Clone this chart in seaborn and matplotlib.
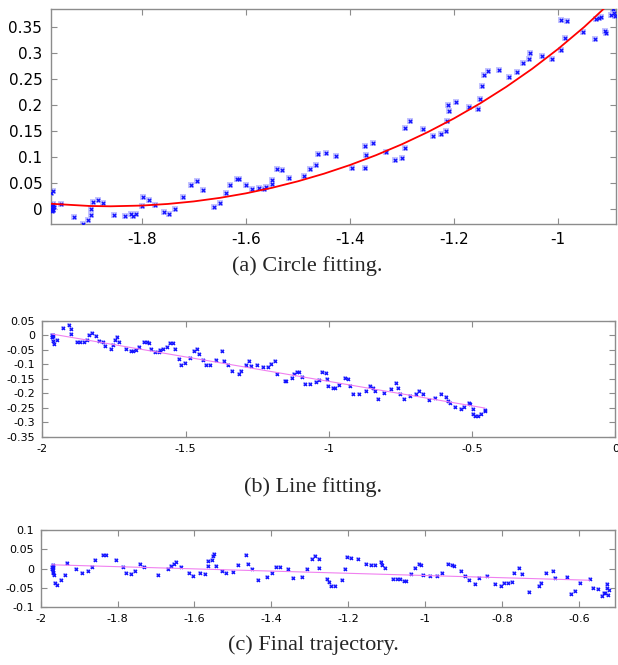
import matplotlib
matplotlib.use("Agg")
import matplotlib.pyplot as plt
import matplotlib.ticker as mticker
import pandas as pd
import seaborn as sns

# (a) circle fitting: measured points and fitted arc
circle_x = [-1.975, -1.970, -1.974, -1.973, -1.972, -1.971, -1.970, -1.973, -1.969, -1.970,
            -1.955, -1.931, -1.912, -1.904, -1.897, -1.897, -1.893, -1.885, -1.875, -1.854,
            -1.833, -1.821, -1.817, -1.811, -1.800, -1.798, -1.787, -1.774, -1.757, -1.747,
            -1.736, -1.720, -1.706, -1.693, -1.682, -1.662, -1.649, -1.639, -1.631, -1.617,
            -1.613, -1.600, -1.588, -1.574, -1.565, -1.561, -1.550, -1.550, -1.540, -1.531,
            -1.517, -1.489, -1.477, -1.465, -1.462, -1.446, -1.426, -1.396, -1.371, -1.369,
            -1.371, -1.356, -1.331, -1.314, -1.301, -1.294, -1.294, -1.285, -1.260, -1.240,
            -1.225, -1.216, -1.213, -1.210, -1.211, -1.197, -1.172, -1.154, -1.150, -1.147,
            -1.143, -1.134, -1.113, -1.095, -1.079, -1.067, -1.057, -1.054, -1.032, -1.012,
            -0.995, -0.987, -0.994, -0.984, -0.952, -0.930, -0.928, -0.921, -0.917, -0.910,
            -0.908, -0.899, -0.894, -0.892, -0.890]
circle_y = [0.030, 0.035, 0.000, 0.004, 0.008, -0.002, 0.010, -0.004, 0.003, -0.002,
            0.010, -0.016, -0.029, -0.022, -0.011, -0.001, 0.014, 0.017, 0.012, -0.011,
            -0.014, -0.010, -0.013, -0.010, 0.006, 0.022, 0.017, 0.008, -0.006, -0.009,
            0.000, 0.023, 0.045, 0.053, 0.036, 0.004, 0.012, 0.030, 0.046, 0.058,
            0.058, 0.045, 0.038, 0.040, 0.038, 0.043, 0.047, 0.055, 0.076, 0.074,
            0.059, 0.064, 0.077, 0.085, 0.105, 0.108, 0.101, 0.078, 0.121, 0.103,
            0.079, 0.126, 0.110, 0.095, 0.097, 0.117, 0.156, 0.170, 0.154, 0.140,
            0.144, 0.150, 0.170, 0.188, 0.199, 0.205, 0.196, 0.193, 0.212, 0.237,
            0.257, 0.265, 0.267, 0.254, 0.264, 0.280, 0.289, 0.299, 0.294, 0.289,
            0.306, 0.328, 0.363, 0.362, 0.340, 0.326, 0.365, 0.367, 0.369, 0.343,
            0.338, 0.372, 0.384, 0.376, 0.371]
circle_fit_x = [-1.975, -1.9, -1.86, -1.8, -1.75, -1.7, -1.65, -1.6, -1.55, -1.5, -1.45, -1.4,
                -1.35, -1.3, -1.25, -1.2, -1.15, -1.1, -1.05, -1.0, -0.95, -0.9]
circle_fit_y = [0.0099, 0.0056, 0.0050, 0.0064, 0.0095, 0.0144, 0.0212, 0.0299, 0.0405, 0.0531,
                0.0677, 0.0844, 0.1033, 0.1244, 0.1480, 0.1741, 0.2029, 0.2346, 0.2694, 0.3078,
                0.3499, 0.3965]

# (b) line fitting
line_x = [-1.967, -1.965, -1.963, -1.966, -1.962, -1.959, -1.962, -1.948, -1.927, -1.908,
          -1.901, -1.899, -1.880, -1.869, -1.855, -1.845, -1.838, -1.825, -1.812, -1.801,
          -1.789, -1.781, -1.761, -1.752, -1.746, -1.739, -1.731, -1.707, -1.692, -1.685,
          -1.672, -1.661, -1.645, -1.636, -1.629, -1.621, -1.606, -1.594, -1.588, -1.578,
          -1.566, -1.554, -1.545, -1.538, -1.524, -1.516, -1.502, -1.485, -1.469, -1.461,
          -1.453, -1.439, -1.428, -1.415, -1.395, -1.374, -1.364, -1.351, -1.338, -1.315,
          -1.305, -1.290, -1.277, -1.270, -1.250, -1.231, -1.213, -1.201, -1.189, -1.182,
          -1.153, -1.150, -1.127, -1.121, -1.112, -1.104, -1.095, -1.084, -1.065, -1.045,
          -1.033, -1.023, -1.009, -1.007, -1.003, -0.986, -0.977, -0.966, -0.945, -0.934,
          -0.926, -0.916, -0.896, -0.870, -0.855, -0.846, -0.837, -0.828, -0.806, -0.784,
          -0.767, -0.758, -0.753, -0.737, -0.718, -0.697, -0.686, -0.672, -0.649, -0.630,
          -0.608, -0.590, -0.585, -0.576, -0.558, -0.539, -0.528, -0.511, -0.506, -0.497,
          -0.497, -0.488, -0.478, -0.467, -0.455, -0.454]
line_y = [0.000, -0.004, 0.002, -0.007, -0.002, -0.031, -0.019, -0.017, 0.026, 0.035,
          0.021, 0.004, -0.024, -0.023, -0.023, -0.015, 0.000, 0.007, -0.002, -0.018,
          -0.024, -0.035, -0.048, -0.033, -0.015, -0.005, -0.024, -0.048, -0.053, -0.053,
          -0.050, -0.041, -0.022, -0.024, -0.027, -0.047, -0.058, -0.056, -0.050, -0.046,
          -0.040, -0.027, -0.027, -0.046, -0.083, -0.102, -0.094, -0.077, -0.053, -0.047,
          -0.064, -0.086, -0.103, -0.103, -0.086, -0.055, -0.087, -0.103, -0.122, -0.132,
          -0.122, -0.102, -0.090, -0.105, -0.103, -0.110, -0.108, -0.099, -0.090, -0.133,
          -0.158, -0.156, -0.148, -0.133, -0.125, -0.125, -0.144, -0.168, -0.167, -0.161,
          -0.154, -0.125, -0.131, -0.151, -0.174, -0.180, -0.180, -0.171, -0.147, -0.151,
          -0.174, -0.203, -0.204, -0.192, -0.175, -0.182, -0.193, -0.218, -0.198, -0.186,
          -0.163, -0.183, -0.204, -0.218, -0.209, -0.204, -0.192, -0.204, -0.223, -0.215,
          -0.204, -0.212, -0.226, -0.233, -0.248, -0.255, -0.246, -0.235, -0.238, -0.255,
          -0.272, -0.279, -0.279, -0.271, -0.261, -0.256]
line_fit_x = [-1.967, -0.455]
line_fit_y = [0.005, -0.251]

# (c) final trajectory
traj_x = [-1.969, -1.968, -1.970, -1.967, -1.969, -1.968, -1.966, -1.970, -1.967, -1.962,
          -1.957, -1.946, -1.938, -1.931, -1.907, -1.893, -1.878, -1.866, -1.858, -1.839,
          -1.829, -1.803, -1.787, -1.777, -1.766, -1.755, -1.742, -1.731, -1.695, -1.669,
          -1.661, -1.653, -1.647, -1.635, -1.614, -1.603, -1.585, -1.573, -1.565, -1.564,
          -1.555, -1.553, -1.550, -1.543, -1.528, -1.519, -1.499, -1.486, -1.466, -1.461,
          -1.450, -1.436, -1.411, -1.398, -1.388, -1.377, -1.356, -1.343, -1.319, -1.306,
          -1.294, -1.287, -1.277, -1.275, -1.256, -1.250, -1.244, -1.234, -1.216, -1.208,
          -1.203, -1.192, -1.174, -1.155, -1.140, -1.131, -1.115, -1.112, -1.105, -1.084,
          -1.074, -1.066, -1.056, -1.050, -1.037, -1.026, -1.017, -1.010, -1.006, -0.986,
          -0.969, -0.956, -0.940, -0.929, -0.924, -0.906, -0.896, -0.885, -0.869, -0.859,
          -0.838, -0.818, -0.802, -0.795, -0.785, -0.775, -0.769, -0.756, -0.749, -0.729,
          -0.704, -0.699, -0.686, -0.668, -0.663, -0.631, -0.621, -0.610, -0.598, -0.571,
          -0.564, -0.551, -0.541, -0.535, -0.531, -0.527, -0.526, -0.525, -0.522]
traj_y = [0.010, 0.005, 0.000, -0.004, -0.008, -0.012, -0.016, 0.003, 0.008, -0.036,
          -0.043, -0.029, -0.016, 0.015, -0.002, -0.010, -0.005, 0.005, 0.022, 0.035,
          0.035, 0.022, 0.003, -0.012, -0.014, -0.007, 0.013, 0.004, -0.016, -0.002,
          0.006, 0.013, 0.018, 0.003, -0.011, -0.020, -0.010, -0.014, 0.006, 0.021,
          0.023, 0.034, 0.038, 0.006, -0.005, -0.012, -0.009, 0.010, 0.035, 0.013,
          -0.002, -0.029, -0.021, -0.010, 0.004, 0.005, -0.001, -0.023, -0.022, -0.002,
          0.026, 0.033, 0.025, 0.002, -0.027, -0.035, -0.044, -0.045, -0.029, -0.002,
          0.029, 0.027, 0.025, 0.011, 0.009, 0.009, 0.018, 0.009, 0.001, -0.027,
          -0.028, -0.028, -0.033, -0.033, -0.014, 0.001, 0.012, 0.010, -0.016, -0.020,
          -0.020, -0.011, 0.013, 0.010, 0.006, -0.006, -0.020, -0.029, -0.041, -0.024,
          -0.018, -0.041, -0.045, -0.036, -0.036, -0.035, -0.012, 0.001, -0.014, -0.061,
          -0.044, -0.038, -0.011, -0.006, -0.024, -0.022, -0.066, -0.058, -0.037, -0.027,
          -0.050, -0.053, -0.070, -0.063, -0.062, -0.041, -0.050, -0.067, -0.055]
traj_fit_x = [-1.971, -0.572]
traj_fit_y = [0.010, -0.030]

sns.set_style("white")
plt.rcParams["axes.unicode_minus"] = False
plt.rcParams["font.family"] = ["DejaVu Sans"]

fig = plt.figure(figsize=(6.18, 6.65), dpi=100)

panels = [
    dict(rect=[0.082, 0.6632, 0.9147, 0.3229], x=circle_x, y=circle_y,
         fx=circle_fit_x, fy=circle_fit_y, fcolor="#ff0000", flw=1.3,
         xlim=(-1.975, -0.889), ylim=(-0.029, 0.384),
         xticks=[-1.8, -1.6, -1.4, -1.2, -1.0],
         yticks=[0, 0.05, 0.1, 0.15, 0.2, 0.25, 0.3, 0.35],
         fs=11, ms=(14, 6), pad=6, caption="(a) Circle fitting.", cap=(0.497, 0.6)),
    dict(rect=[0.0684, 0.3433, 0.9272, 0.174], x=line_x, y=line_y,
         fx=line_fit_x, fy=line_fit_y, fcolor="#f080f0", flw=0.8,
         xlim=(-2, 0), ylim=(-0.35, 0.05),
         xticks=[-2, -1.5, -1, -0.5, 0],
         yticks=[0.05, 0, -0.05, -0.1, -0.15, -0.2, -0.25, -0.3, -0.35],
         fs=8, ms=(12, 5), pad=5, caption="(b) Line fitting.", cap=(0.506, 0.267)),
    dict(rect=[0.0659, 0.0868, 0.9298, 0.1162], x=traj_x, y=traj_y,
         fx=traj_fit_x, fy=traj_fit_y, fcolor="#f080f0", flw=0.8,
         xlim=(-2, -0.505), ylim=(-0.1, 0.1),
         xticks=[-2, -1.8, -1.6, -1.4, -1.2, -1, -0.8, -0.6],
         yticks=[-0.1, -0.05, 0, 0.05, 0.1],
         fs=8, ms=(12, 5), pad=5, caption="(c) Final trajectory.", cap=(0.507, 0.030)),
]

fmt = mticker.FuncFormatter(lambda v, p: "%g" % round(v, 4))

for p in panels:
    ax = fig.add_axes(p["rect"])
    pts = pd.DataFrame({"x": p["x"], "y": p["y"]})
    fit = pd.DataFrame({"x": p["fx"], "y": p["fy"]})
    # pale square halo behind each cross, like the original raster
    sns.scatterplot(data=pts, x="x", y="y", ax=ax, marker="s", s=p["ms"][0],
                    color="#c4c4ff", linewidth=0, zorder=2)
    sns.scatterplot(data=pts, x="x", y="y", ax=ax, marker="x", s=p["ms"][1],
                    color="#1010ff", linewidth=0.9, zorder=3)
    sns.lineplot(data=fit, x="x", y="y", ax=ax, color=p["fcolor"], lw=p["flw"],
                 sort=False, estimator=None, zorder=4)
    ax.set_xlim(p["xlim"])
    ax.set_ylim(p["ylim"])
    ax.set_xticks(p["xticks"])
    ax.set_yticks(p["yticks"])
    ax.xaxis.set_major_formatter(fmt)
    ax.yaxis.set_major_formatter(fmt)
    ax.set_xlabel("")
    ax.set_ylabel("")
    for s in ax.spines.values():
        s.set_color("#8c8c8c")
        s.set_linewidth(1.0)
    ax.tick_params(direction="in", length=4, width=0.8, color="#8c8c8c",
                   top=True, right=True, bottom=True, left=True,
                   labelsize=p["fs"], labelcolor="black", pad=p["pad"])
    fig.text(p["cap"][0], p["cap"][1], p["caption"], ha="center", va="center",
             fontsize=16, family="Liberation Serif")

plt.savefig("out.png", dpi=100)
